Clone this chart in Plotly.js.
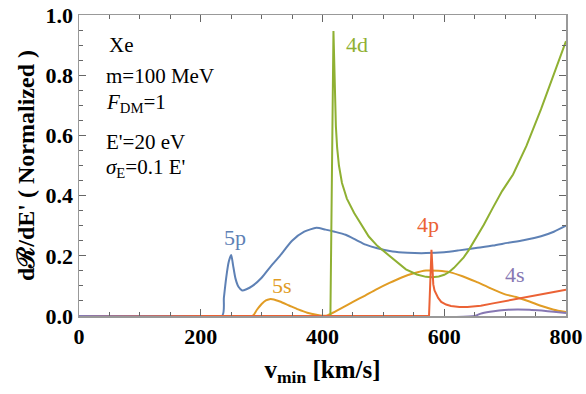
<!DOCTYPE html>
<html>
<head>
<meta charset="utf-8">
<script src="https://cdn.plot.ly/plotly-3.0.1.min.js"></script>
<style>
  html, body { margin: 0; padding: 0; background: white; }
  #chart { width: 586px; height: 394px; }
</style>
</head>
<body>
<div id="chart"></div>
<script>
// values (v_min in km/s, rate normalized)
const v5p = [0, 235, 238, 242, 246, 250, 253, 257, 262, 268, 275, 285, 300, 315, 330, 350, 370, 390, 405, 420, 438, 455, 471, 490, 515, 540, 570, 600, 624, 652, 680, 704, 730, 759, 780, 800];
const r5p = [0, 0, 0.06, 0.13, 0.18, 0.203, 0.17, 0.125, 0.097, 0.085, 0.089, 0.1, 0.127, 0.165, 0.2, 0.25, 0.28, 0.293, 0.287, 0.28, 0.27, 0.253, 0.237, 0.225, 0.214, 0.21, 0.209, 0.212, 0.218, 0.226, 0.234, 0.243, 0.252, 0.265, 0.28, 0.3];

const v5s = [0, 285, 292, 300, 307, 313, 320, 330, 345, 360, 375, 390, 400, 408, 420, 432, 450, 470, 487, 510, 530, 550, 570, 590, 610, 630, 652, 675, 700, 718, 740, 760, 780, 800];
const r5s = [0, 0, 0.02, 0.04, 0.052, 0.056, 0.055, 0.048, 0.035, 0.022, 0.011, 0.004, 0.001, 0.002, 0.014, 0.027, 0.047, 0.068, 0.087, 0.11, 0.128, 0.142, 0.151, 0.15, 0.145, 0.132, 0.114, 0.093, 0.072, 0.063, 0.048, 0.033, 0.021, 0.013];

const v4d = [0, 413, 418, 419, 420, 421, 422, 424, 427, 432, 440, 452, 465, 476, 490, 504, 520, 537, 555, 570, 580, 591, 600, 608, 616, 624, 632, 640, 652, 665, 680, 695, 713, 735, 759, 780, 800];
const r4d = [0, 0, 0.947, 0.85, 0.75, 0.687, 0.63, 0.56, 0.5, 0.442, 0.39, 0.342, 0.298, 0.264, 0.233, 0.209, 0.182, 0.155, 0.138, 0.13, 0.129, 0.131, 0.137, 0.146, 0.16, 0.176, 0.195, 0.218, 0.257, 0.303, 0.36, 0.415, 0.47, 0.565, 0.687, 0.8, 0.913];

const v4p = [0, 575, 579, 580, 581, 582, 584, 587, 590, 595, 603, 611, 625, 638, 660, 680, 700, 720, 740, 760, 780, 800];
const r4p = [0, 0, 0.22, 0.17, 0.13, 0.105, 0.085, 0.07, 0.06, 0.047, 0.038, 0.033, 0.03, 0.03, 0.034, 0.042, 0.05, 0.058, 0.065, 0.073, 0.08, 0.087];

const v4s = [0, 650, 660, 675, 690, 705, 720, 740, 760, 780, 800];
const r4s = [0, 0, 0.008, 0.014, 0.018, 0.021, 0.022, 0.021, 0.018, 0.014, 0.01];

const shellLabels = ['5p', '5s', '4d', '4p', '4s'];
const labelX = [257, 334, 457, 573, 717];
const labelY = [0.262, 0.103, 0.903, 0.303, 0.137];

const colors = ['#5E81B5', '#E19C24', '#8FB032', '#EB6235', '#8778B3'];
const series = [[v5p, r5p], [v5s, r5s], [v4d, r4d], [v4p, r4p], [v4s, r4s]];
// the sharp onsets of 4d and 4p stay straight, the rest is smoothed
const smooth = [true, true, false, false, true];

const serif = 'Liberation Serif';

const data = series.map(function (s, i) {
  return {
    x: s[0],
    y: s[1],
    type: 'scatter',
    mode: 'lines',
    name: shellLabels[i],
    line: smooth[i]
      ? { color: colors[i], width: 2, shape: 'spline', smoothing: 0.6 }
      : { color: colors[i], width: 2 },
    hoverinfo: 'skip'
  };
});

const annotations = shellLabels.map(function (t, i) {
  return {
    x: labelX[i], y: labelY[i], xref: 'x', yref: 'y',
    text: t, showarrow: false,
    font: { family: serif, size: 22, color: colors[i] }
  };
});

// info text in the top-left corner
const info = ['Xe', 'm=100 MeV', '<i>F</i><sub>DM</sub>=1', "E'=20 eV", "<i>σ</i><sub>E</sub>=0.1 E'"];
const infoY = [45, 76, 103, 142, 168];
info.forEach(function (t, i) {
  annotations.push({
    x: i == 0 ? 107 : 104, y: infoY[i], xref: 'paper', yref: 'paper',
    text: t, showarrow: false, xanchor: 'left', yanchor: 'middle',
    font: { family: serif, size: 21, color: 'black' }
  });
});
// paper coords from pixel positions
annotations.forEach(function (a) {
  if (a.xref == 'paper') {
    a.x = (a.x - 79) / 487;
    a.y = (316 - a.y) / 301;
  }
});

const axisCommon = {
  showline: true,
  linecolor: '#999',
  linewidth: 1.5,
  mirror: 'ticks',
  ticks: 'inside',
  ticklen: 7,
  tickcolor: '#666',
  tickwidth: 1,
  showgrid: false,
  zeroline: false,
  tickfont: { family: serif, size: 22, weight: 'bold', color: 'black' }
};

const layout = {
  width: 586,
  height: 394,
  margin: { l: 79, r: 20, t: 15, b: 78 },
  paper_bgcolor: 'white',
  plot_bgcolor: 'white',
  showlegend: false,
  font: { family: serif },
  xaxis: Object.assign({}, axisCommon, {
    range: [0, 800],
    tickvals: [0, 200, 400, 600, 800],
    minor: { dtick: 50, ticks: 'inside', ticklen: 4, tickcolor: '#666' },
    title: {
      text: 'v<sub>min</sub> [km/s]',
      font: { family: serif, size: 25, weight: 'bold', color: 'black' },
      standoff: 12
    }
  }),
  yaxis: Object.assign({}, axisCommon, {
    range: [0, 1.0],
    tickvals: [0, 0.2, 0.4, 0.6, 0.8, 1.0],
    tickformat: '.1f',
    minor: { dtick: 0.05, ticks: 'inside', ticklen: 4, tickcolor: '#666' },
    title: {
      text: "dℛ/dE' ( Normalized )",
      font: { family: serif, size: 24, weight: 'bold', color: 'black' },
      standoff: 4
    }
  }),
  annotations: annotations
};

Plotly.newPlot('chart', data, layout, { staticPlot: true });
</script>
</body>
</html>
